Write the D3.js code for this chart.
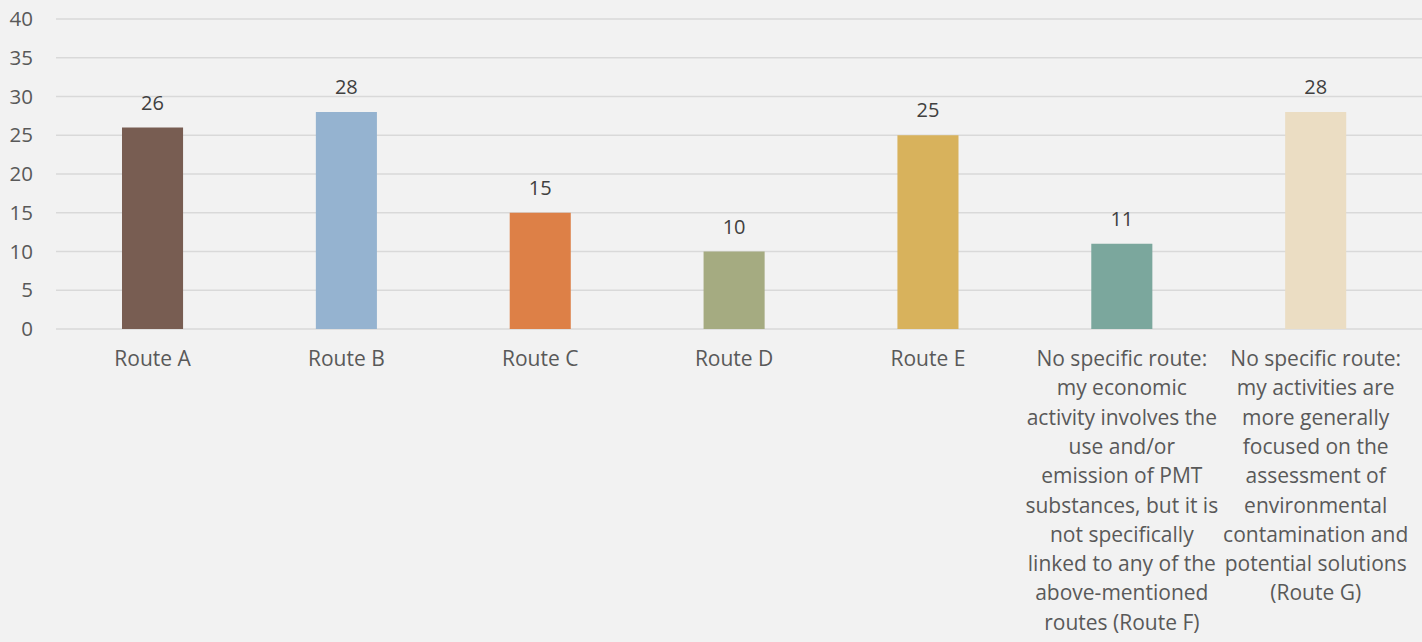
<!DOCTYPE html>
<html>
<head>
<meta charset="utf-8">
<script src="https://cdn.jsdelivr.net/npm/d3@7"></script>
<style>
  html, body { margin: 0; padding: 0; background: #f2f2f2; }
  svg { display: block; }
  svg text { font-family: "Open Sans", "Noto Sans", sans-serif; }
</style>
</head>
<body>
<svg id="chart" width="1422" height="642"></svg>
<script>
// Survey responses per route
const categories = [
  "Route A",
  "Route B",
  "Route C",
  "Route D",
  "Route E",
  "No specific route:\nmy economic\nactivity involves the\nuse and/or\nemission of PMT\nsubstances, but it is\nnot specifically\nlinked to any of the\nabove-mentioned\nroutes (Route F)",
  "No specific route:\nmy activities are\nmore generally\nfocused on the\nassessment of\nenvironmental\ncontamination and\npotential solutions\n(Route G)"
];
const values = [26, 28, 15, 10, 25, 11, 28];
const barColors = ["#785d52", "#95b3d0", "#dd8047", "#a5ab81", "#d8b25c", "#7ba79d", "#ebddc3"];
const yTicks = [0, 5, 10, 15, 20, 25, 30, 35, 40];

const W = 1422, H = 642;
const plot = { left: 55.6, right: 1412.6, top: 19, bottom: 329 };
const gridLeft = 56;

const svg = d3.select("#chart");

const x = d3.scaleBand()
  .domain(categories)
  .range([plot.left, plot.right])
  .paddingInner(0.685)
  .paddingOuter(0.3425);

const y = d3.scaleLinear()
  .domain([0, 40])
  .range([plot.bottom, plot.top]);

// Horizontal gridlines
svg.append("g")
  .selectAll("line")
  .data(yTicks)
  .join("line")
  .attr("x1", gridLeft)
  .attr("x2", W)
  .attr("y1", d => y(d))
  .attr("y2", d => y(d))
  .attr("stroke", "#d9d9d9")
  .attr("stroke-width", 1.5);

// Y axis labels
const yAxis = d3.axisLeft(y).tickValues(yTicks).tickSize(0).tickPadding(0);
svg.append("g")
  .attr("transform", "translate(33,0)")
  .call(yAxis)
  .call(g => g.select(".domain").remove())
  .call(g => g.selectAll("text")
    .attr("fill", "#595959")
    .style("font-size", "20.5px")
    .style("font-family", "'Open Sans', sans-serif"));

// Bars
svg.append("g")
  .selectAll("rect")
  .data(values)
  .join("rect")
  .attr("x", (d, i) => x(categories[i]))
  .attr("width", x.bandwidth())
  .attr("y", d => y(d))
  .attr("height", d => y(0) - y(d))
  .attr("fill", (d, i) => barColors[i]);

// Value labels
svg.append("g")
  .selectAll("text")
  .data(values)
  .join("text")
  .attr("x", (d, i) => x(categories[i]) + x.bandwidth() / 2)
  .attr("y", d => y(d) - 18)
  .attr("text-anchor", "middle")
  .attr("fill", "#404040")
  .style("font-size", "20px")
  .text(d => d);

// Category labels (multi-line)
const xAxis = d3.axisBottom(x).tickSize(0).tickPadding(0).tickFormat("");
const xg = svg.append("g")
  .attr("transform", `translate(0,${y(0)})`)
  .call(xAxis);
xg.select(".domain").remove();
xg.selectAll(".tick").each(function(d) {
  const t = d3.select(this).append("text")
    .attr("text-anchor", "middle")
    .attr("fill", "#595959")
    .style("font-size", "21px")
    .style("font-family", "'Open Sans', sans-serif");
  d.split("\n").forEach((line, k) => {
    t.append("tspan")
      .attr("x", 0)
      .attr("y", 37 + k * 29.3)
      .text(line);
  });
});
</script>
</body>
</html>
